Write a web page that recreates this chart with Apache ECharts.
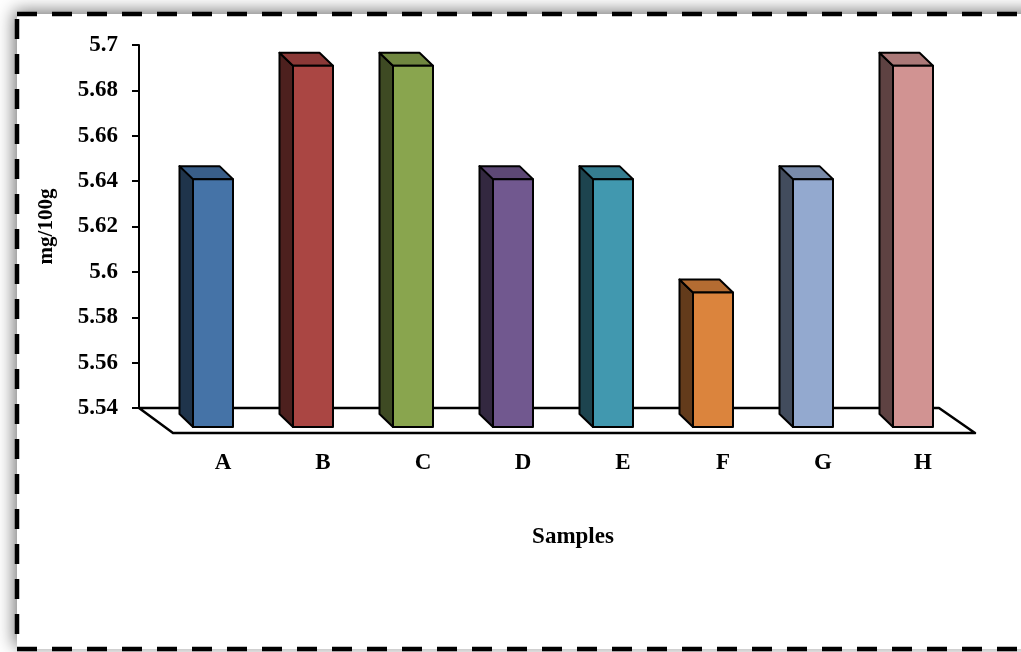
<!DOCTYPE html>
<html><head><meta charset="utf-8">
<script src="https://cdn.jsdelivr.net/npm/echarts@6/dist/echarts.min.js"></script>
<style>html,body{margin:0;padding:0;background:#fff}#c{width:1021px;height:652px}</style>
</head><body><div id="c"></div>
<script>
const categories = ['A','B','C','D','E','F','G','H'];
const values = [5.64, 5.69, 5.69, 5.64, 5.64, 5.59, 5.64, 5.69];
const barColors = ['#4573A7','#AA4643','#89A54E','#71588F','#4198AF','#DB843D','#93A9CF','#D19392'];
const yMin = 5.54, yMax = 5.7, yInterval = 0.02;
const yTitle = 'mg/100g';
const xTitle = 'Samples';

const FONT = 'Liberation Serif';
function shade(hex, f) {
  const n = parseInt(hex.slice(1), 16);
  const r = Math.round(((n >> 16) & 255) * f), g = Math.round(((n >> 8) & 255) * f), b = Math.round((n & 255) * f);
  return 'rgb(' + r + ',' + g + ',' + b + ')';
}

function renderFloor(params, api) {
  const cs = params.coordSys;
  const by = cs.y + cs.height;
  return {
    type: 'polygon',
    shape: { points: [[cs.x, by], [cs.x + cs.width, by], [cs.x + cs.width + 36, by + 25], [cs.x + 34, by + 25]] },
    style: { fill: '#fff', stroke: '#000', lineWidth: 2.5, lineJoin: 'round' }
  };
}

function renderBar(params, api) {
  const i = api.value(0), v = api.value(1);
  const top = api.coord([i, v]);
  const base = api.coord([i, yMin]);
  const bw = api.size([1, 0])[0];
  const w = bw * 0.4, dx = bw * 0.135, dy = 13;
  const fx = top[0] + bw * 0.04;
  const ft = top[1] - 2;
  const fb = base[1] + 19;
  const col = barColors[i];
  const st = { stroke: '#000', lineWidth: 2, lineJoin: 'round' };
  return {
    type: 'group',
    children: [
      { type: 'polygon', shape: { points: [[fx, ft], [fx - dx, ft - dy], [fx - dx, fb - dy], [fx, fb]] },
        style: Object.assign({ fill: shade(col, 0.45) }, st) },
      { type: 'polygon', shape: { points: [[fx, ft], [fx + w, ft], [fx + w - dx, ft - dy], [fx - dx, ft - dy]] },
        style: Object.assign({ fill: shade(col, 0.82) }, st) },
      { type: 'rect', shape: { x: fx, y: ft, width: w, height: fb - ft },
        style: Object.assign({ fill: col }, st) }
    ]
  };
}

const textStyle = { fontFamily: FONT, fontWeight: 'bold', color: '#000' };

const chart = echarts.init(document.getElementById('c'), null, { renderer: 'canvas' });
chart.setOption({
  backgroundColor: '#fff',
  animation: false,
  graphic: [
    { type: 'rect', z: -10, silent: true,
      shape: { x: 17, y: 14, width: 1040, height: 635 },
      style: { fill: '#fff', shadowBlur: 16, shadowColor: 'rgba(0,0,0,0.55)', shadowOffsetX: -3, shadowOffsetY: -3 } },
    { type: 'rect', z: 100, silent: true,
      shape: { x: 17, y: 14, width: 1040, height: 635 },
      style: { fill: 'none', stroke: '#000', lineWidth: 4.5, lineDash: [20, 15] } }
  ],
  grid: [
    { left: 139, top: 45, width: 800, height: 363, outerBoundsMode: 'none' },
    { left: 173, top: 45, width: 800, height: 388, outerBoundsMode: 'none' }
  ],
  xAxis: [
    { gridIndex: 0, type: 'category', data: categories, show: false },
    { gridIndex: 1, type: 'category', data: categories,
      axisLine: { show: false }, axisTick: { show: false }, splitLine: { show: false },
      axisLabel: Object.assign({ margin: 19, fontSize: 23 }, textStyle),
      name: xTitle, nameLocation: 'middle', nameGap: 93,
      nameTextStyle: Object.assign({ fontSize: 23 }, textStyle) }
  ],
  yAxis: [
    { gridIndex: 0, type: 'value', min: yMin, max: yMax, interval: yInterval,
      axisLine: { show: true, lineStyle: { color: '#000', width: 2 } },
      axisTick: { show: true, length: 7, lineStyle: { color: '#000', width: 2 } },
      splitLine: { show: false },
      axisLabel: Object.assign({ margin: 21, fontSize: 23 }, textStyle),
      name: yTitle, nameLocation: 'middle', nameRotate: 90, nameGap: 82,
      nameTextStyle: Object.assign({ fontSize: 21 }, textStyle) },
    { gridIndex: 1, type: 'value', min: yMin, max: yMax, show: false }
  ],
  series: [
    { type: 'custom', xAxisIndex: 0, yAxisIndex: 0, z: 1, renderItem: renderFloor, data: [[0, yMin]], silent: true },
    { type: 'custom', xAxisIndex: 0, yAxisIndex: 0, z: 3, renderItem: renderBar,
      data: values.map((v, i) => [i, v]), encode: { x: 0, y: 1 }, silent: true }
  ]
});
</script></body></html>
